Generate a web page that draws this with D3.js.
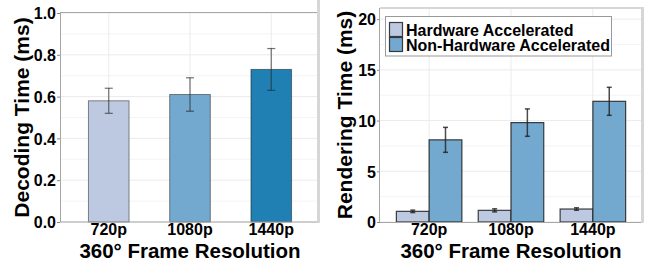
<!DOCTYPE html>
<html><head><meta charset="utf-8">
<script src="https://cdn.jsdelivr.net/npm/d3@7"></script>
<style>body{margin:0;background:#fff}svg{display:block}text{font-family:"Liberation Sans",Arial,sans-serif;font-weight:bold;fill:#000}</style>
</head><body><svg id="c" width="647" height="264"></svg>
<script>
const categories = ["720p","1080p","1440p"];
const decodeMean = [0.58, 0.61, 0.73];
const decodeErr = [0.06, 0.08, 0.10];
const decodeColors = ["#bdc9e1","#74a9cf","#2080b4"];
const series = ["Hardware Accelerated","Non-Hardware Accelerated"];
const renderHW = [1.05, 1.15, 1.28];
const renderHWErr = [0.12, 0.15, 0.12];
const renderNHW = [8.1, 9.8, 11.9];
const renderNHWErr = [1.23, 1.35, 1.38];
const seriesColors = ["#bdc9e1","#74a9cf"];
const decodeTicks = [0,0.2,0.4,0.6,0.8,1.0];
const renderTicks = [0,5,10,15,20];

const svg = d3.select("#c");

function panel(opts){
  const {x0,x1,y0,y1,domainMax,ticks,minor,fmt,title,titleX} = opts;
  const x = d3.scaleBand().domain(categories).range([x0,x1]).paddingInner(0).paddingOuter(0.1);
  const y = d3.scaleLinear().domain([0,domainMax]).range([y1,y0]);
  const g = svg.append("g");
  g.selectAll(".mn").data(minor).join("line")
    .attr("x1",x0).attr("x2",x1).attr("y1",d=>y(d)).attr("y2",d=>y(d))
    .attr("stroke","#f4f4f4").attr("stroke-width",1);
  g.selectAll(".mj").data(ticks).join("line")
    .attr("x1",x0).attr("x2",x1).attr("y1",d=>y(d)).attr("y2",d=>y(d))
    .attr("stroke","#ebebeb").attr("stroke-width",1);
  g.selectAll(".vx").data(categories).join("line")
    .attr("x1",d=>x(d)+x.bandwidth()/2).attr("x2",d=>x(d)+x.bandwidth()/2)
    .attr("y1",y0).attr("y2",y1).attr("stroke","#ebebeb");
  const ya = d3.axisLeft(y).tickValues(ticks).tickFormat(fmt).tickSize(3).tickPadding(1);
  const yg = g.append("g").attr("transform",`translate(${x0},0)`).call(ya);
  yg.select(".domain").remove();
  yg.selectAll("line").attr("stroke","#888");
  yg.selectAll("text").style("font-size","16px").attr("dy","0.36em");
  const xa = d3.axisBottom(x).tickSize(0).tickPadding(2);
  const xg = g.append("g").attr("transform",`translate(0,${y1})`).call(xa);
  xg.select(".domain").remove();
  xg.selectAll("text").style("font-size","16px").attr("dy","0.71em");
  g.append("text").attr("x",(x0+x1)/2).attr("y",258).attr("text-anchor","middle")
    .style("font-size","20.5px").text("360° Frame Resolution");
  g.append("text").attr("transform",`translate(${titleX},${(y0+y1)/2}) rotate(-90)`)
    .attr("text-anchor","middle").style("font-size","21px").text(title);
  return {g,x,y};
}

// Left panel
const L = panel({x0:60,x1:320,y0:13,y1:222,domainMax:1,ticks:decodeTicks,
  minor:[0.1,0.3,0.5,0.7,0.9],fmt:d3.format(".1f"),title:"Decoding Time (ms)",titleX:29});
L.g.selectAll(".bar").data(categories).join("rect")
  .attr("x",d=>L.x(d)+L.x.bandwidth()*0.25).attr("width",L.x.bandwidth()*0.5)
  .attr("y",(d,i)=>L.y(decodeMean[i])).attr("height",(d,i)=>L.y(0)-L.y(decodeMean[i]))
  .attr("fill",(d,i)=>decodeColors[i]).attr("stroke","rgba(0,0,0,0.45)").attr("stroke-width",1);
const le = L.g.selectAll(".eb").data(categories).join("g").attr("stroke","rgba(40,40,40,0.65)").attr("stroke-width",1.2);
le.append("line").attr("x1",d=>L.x(d)+L.x.bandwidth()/2).attr("x2",d=>L.x(d)+L.x.bandwidth()/2)
  .attr("y1",(d,i)=>L.y(decodeMean[i]+decodeErr[i])).attr("y2",(d,i)=>L.y(decodeMean[i]-decodeErr[i]));
[1,-1].forEach(s=>{
  le.append("line").attr("x1",d=>L.x(d)+L.x.bandwidth()/2-4).attr("x2",d=>L.x(d)+L.x.bandwidth()/2+4)
    .attr("y1",(d,i)=>L.y(decodeMean[i]+s*decodeErr[i])).attr("y2",(d,i)=>L.y(decodeMean[i]+s*decodeErr[i]));
});
L.g.append("rect").attr("x",60.5).attr("y",12.5).attr("width",259).attr("height",209.5)
  .attr("fill","none").attr("stroke","#a6a6a6").attr("stroke-width",1);
L.g.append("rect").attr("x",317).attr("y",0).attr("width",3).attr("height",223).attr("fill","#d6d6d6");

// Right panel
const R = panel({x0:380,x1:642,y0:8,y1:222,domainMax:21.1,ticks:renderTicks,
  minor:[2.5,7.5,12.5,17.5],fmt:d3.format("d"),title:"Rendering Time (ms)",titleX:352});
const bw = R.x.step()*0.4;
const rData = [renderHW, renderNHW], rErr = [renderHWErr, renderNHWErr];
[0,1].forEach(s=>{
  const cx = d=>R.x(d)+R.x.bandwidth()/2 + (s===0?-bw:0);
  R.g.selectAll(".rb"+s).data(categories).join("rect")
    .attr("x",cx).attr("width",bw)
    .attr("y",(d,i)=>R.y(rData[s][i])).attr("height",(d,i)=>R.y(0)-R.y(rData[s][i]))
    .attr("fill",seriesColors[s]).attr("stroke","rgba(30,30,30,0.85)").attr("stroke-width",1.2);
  const eg = R.g.selectAll(".re"+s).data(categories).join("g").attr("stroke","rgba(30,30,30,0.8)").attr("stroke-width",1.5);
  const mx = d=>cx(d)+bw/2;
  eg.append("line").attr("x1",mx).attr("x2",mx)
    .attr("y1",(d,i)=>R.y(rData[s][i]+rErr[s][i])).attr("y2",(d,i)=>R.y(rData[s][i]-rErr[s][i]));
  [1,-1].forEach(k=>{
    eg.append("line").attr("x1",d=>mx(d)-2.5).attr("x2",d=>mx(d)+2.5)
      .attr("y1",(d,i)=>R.y(rData[s][i]+k*rErr[s][i])).attr("y2",(d,i)=>R.y(rData[s][i]+k*rErr[s][i]));
  });
});
R.g.append("line").attr("x1",379.5).attr("x2",379.5).attr("y1",8).attr("y2",222).attr("stroke","#a6a6a6");
R.g.append("line").attr("x1",380).attr("x2",642).attr("y1",222.5).attr("y2",222.5).attr("stroke","#a6a6a6");
R.g.append("rect").attr("x",380).attr("y",7).attr("width",264).attr("height",2).attr("fill","#d6d6d6");
R.g.append("rect").attr("x",641).attr("y",7).attr("width",3).attr("height",216).attr("fill","#d6d6d6");

// Legend
const lg = svg.append("g");
lg.append("rect").attr("x",385.5).attr("y",16.5).attr("width",226).attr("height",39.5)
  .attr("fill","#fff").attr("stroke","#999");
series.forEach((s,i)=>{
  lg.append("rect").attr("x",389.5).attr("y",22.5+i*15).attr("width",13).attr("height",14)
    .attr("fill",seriesColors[i]).attr("stroke","rgba(30,30,30,0.85)").attr("stroke-width",1.2);
  lg.append("text").attr("x",406).attr("y",35.5+i*15).style("font-size","16px").text(s);
});
</script></body></html>
